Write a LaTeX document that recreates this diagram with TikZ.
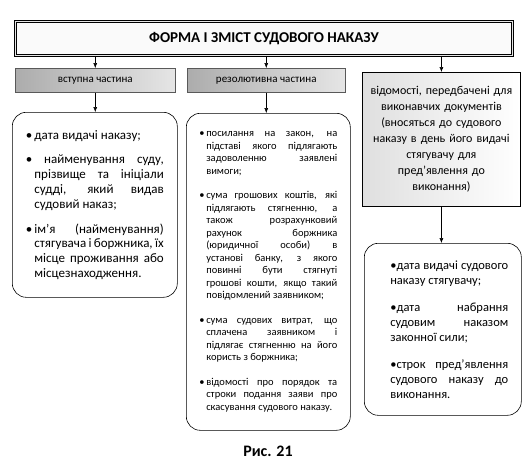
\documentclass[tikz,border=0pt]{standalone}
\usepackage{fontspec}
\setmainfont{Carlito}
\usetikzlibrary{arrows.meta}
\newcommand\jl[1]{\hbox to\linewidth{#1}}
\newcommand\lastl[1]{\hbox to\linewidth{#1\hfil}}
\newcommand\hg{\hphantom{•\,}}
\newcommand\gap[1]{\vskip#1\relax}
\newcommand\txtblock[2]{\vbox{\hsize=#1\linewidth=#1\hbadness=10000 #2}}
\begin{document}
\begin{tikzpicture}[x=1pt,y=-1pt,
  conn/.style={line width=0.5pt,-{Latex[length=5pt,width=4pt]}},
  titlebox/.style={draw, line width=0.9pt, double=gray!20, double distance=1.4pt, fill=gray!4,
     anchor=north west, inner sep=0pt, font=\bfseries\fontsize{15}{17}\selectfont},
  subbox/.style={draw=gray!70!black, line width=0.5pt, left color=gray!65, middle color=gray!12,
     right color=gray!20, anchor=north west, inner sep=0pt, minimum height=24pt,
     font=\fontsize{11}{13}\selectfont},
  rbox/.style={draw, line width=0.6pt, rounded corners=14pt, anchor=north west, inner sep=0pt},
  infobox/.style={draw, line width=0.8pt, left color=gray!25, right color=white,
     anchor=north west, inner xsep=3pt, align=center, text width=152pt,
     minimum height=134pt, font=\fontsize{12}{16}\selectfont}]
\useasboundingbox (0,0) rectangle (529,472);

\node[titlebox, minimum width=497pt, minimum height=34pt] (title) at (15,21)
  {ФОРМА І ЗМІСТ СУДОВОГО НАКАЗУ};

\node[subbox, minimum width=160pt] (vst) at (15,68) {вступна частина};
\node[subbox, minimum width=158pt] (rez) at (187,68) {резолютивна частина};
\node[infobox] (vid) at (362,72)
  {відомості, передбачені для\\ виконавчих документів\\ (вносяться до судового\\
   наказу в день його видачі\\ стягувачу для\\ пред’явлення до\\ виконання)};

\node[rbox, minimum width=165pt, minimum height=185pt,
      font=\fontsize{13}{14.8}\selectfont] (lb) at (12,112)
  {\txtblock{138pt}{%
   \lastl{•\,дата видачі наказу;}\gap{10pt}
   \jl{• найменування суду,}
   \jl{\hg прізвище та ініціали}
   \jl{\hg судді, який видав}
   \lastl{\hg судовий наказ;}\gap{10pt}
   \jl{•\,ім’я (найменування)}
   \jl{\hg стягувача і боржника, їх}
   \jl{\hg місце проживання або}
   \lastl{\hg місцезнаходження.}}};

\node[rbox, minimum width=164pt, minimum height=317pt,
      font=\fontsize{10.5}{12.5}\selectfont] (mb) at (186,113)
  {\txtblock{138pt}{%
   \jl{•\,посилання на закон, на}
   \jl{\hg підставі якого підлягають}
   \jl{\hg задоволенню заявлені}
   \lastl{\hg вимоги;}\gap{12pt}
   \jl{•\,сума грошових коштів, які}
   \jl{\hg підлягають стягненню, а}
   \jl{\hg також розрахунковий}
   \jl{\hg рахунок боржника}
   \jl{\hg (юридичної особи) в}
   \jl{\hg установі банку, з якого}
   \jl{\hg повинні бути стягнуті}
   \jl{\hg грошові кошти, якщо такий}
   \lastl{\hg повідомлений заявником;}\gap{12pt}
   \jl{•\,сума судових витрат, що}
   \jl{\hg сплачена заявником і}
   \jl{\hg підлягає стягненню на його}
   \lastl{\hg користь з боржника;}\gap{12pt}
   \jl{•\,відомості про порядок та}
   \jl{\hg строки подання заяви про}
   \lastl{\hg скасування судового наказу.}}};

\node[rbox, minimum width=157pt, minimum height=172pt,
      font=\fontsize{12.5}{15}\selectfont] (rb) at (364,243)
  {\hbox{\hskip13pt\txtblock{118pt}{%
   \jl{•дата видачі судового}
   \lastl{наказу стягувачу;}\gap{12pt}
   \jl{•дата набрання}
   \jl{судовим наказом}
   \lastl{законної сили;}\gap{12pt}
   \jl{•строк пред’явлення}
   \jl{судового наказу до}
   \lastl{виконання.}}}};

\node[font=\bfseries\fontsize{16}{18}\selectfont] (cap) at (268,451) {Рис. 21};

\draw[conn] (title.south -| vst) -- (vst.north);
\draw[conn] (title.south -| rez) -- (rez.north);
\draw[conn] (title.south -| vid) -- (vid.north);
\draw[conn] (vst.south) -- (vst.south |- lb.north);
\draw[conn] (rez.south) -- (rez.south |- mb.north);
\draw[conn] (vid.south) -- (vid.south |- rb.north);
\end{tikzpicture}
\end{document}
